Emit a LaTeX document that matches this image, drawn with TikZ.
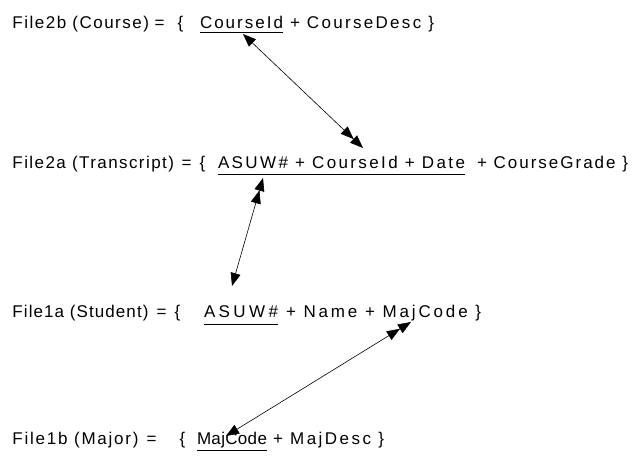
\documentclass[tikz,border=0pt]{standalone}
\usepackage{fontspec}
\setmainfont{Liberation Sans}
\usetikzlibrary{arrows.meta}
% Set a text with the letter spacing that makes it exactly #1 wide:
% the width grows linearly with LetterSpace, so two trial widths fix it.
\newlength\fitwa
\newlength\fitwb
\newcommand\fitw[2]{%
  \settowidth\fitwa{#2}%
  \settowidth\fitwb{\addfontfeatures{LetterSpace=10}#2}%
  \pgfmathsetmacro\fitls{10*(#1-\fitwa)/(\fitwb-\fitwa)}%
  \addfontfeatures{LetterSpace=\fitls}#2}
\begin{document}
\begin{tikzpicture}[x=1pt,y=1pt,
  txt/.style={inner sep=0pt, outer sep=0pt, anchor=base west,
    font=\fontsize{17}{20}\selectfont},
  uline/.style={line width=0.8pt},
  link/.style={line width=0.6pt},
  one-two/.style={link, {Triangle[length=13pt,width=10pt]}-{Triangle[length=13pt,width=10pt] Triangle[length=13pt,width=10pt]}},
  two-one/.style={link, {Triangle[length=13pt,width=10pt] Triangle[length=13pt,width=10pt]}-{Triangle[length=13pt,width=10pt]}}
]
\useasboundingbox (0,0) rectangle (639,465);

% File2b
\node[txt] (l1a) at (12.5,436.5) {\fitw{136.5pt}{File2b (Course)}};
\node[txt] (l1e) at (154.5,436.5) {=\hspace{13.1pt}\{};
\node[txt] (l1k) at (200,436.5) {\fitw{83pt}{CourseId}};
\node[txt] (l1b) at (290,436.5) {\fitw{144pt}{+ CourseDesc \}}};
\draw[uline] ([yshift=-3.5pt]l1k.base west) -- ([yshift=-3.5pt]l1k.base east);

% File2a
\node[txt] (l2a) at (12.5,296) {\fitw{161.5pt}{File2a (Transcript)}};
\node[txt] (l2e) at (181.5,296) {=\hspace{8.1pt}\{};
\node[txt] (l2k) at (218,296) {\fitw{247pt}{ASUW\# + CourseId + Date}};
\node[txt] (l2b) at (477,296) {\fitw{151pt}{+ CourseGrade \}}};
\draw[uline] ([yshift=-5pt]l2k.base west) -- ([yshift=-5pt]l2k.base east);

% File1a
\node[txt] (l3a) at (12.5,147) {\fitw{136pt}{File1a (Student)}};
\node[txt] (l3e) at (156.5,147) {=\hspace{8.1pt}\{};
\node[txt] (l3k) at (204,147) {\fitw{74pt}{ASUW\#}};
\node[txt] (l3b) at (286,147) {\fitw{195pt}{+ Name + MajCode \}}};
\draw[uline] ([yshift=-6pt]l3k.base west) -- ([yshift=-6pt]l3k.base east);

% File1b
\node[txt] (l4a) at (12.5,20) {\fitw{126pt}{File1b (Major)}};
\node[txt] (l4e) at (146.5,20) {=\hspace{23.1pt}\{};
\node[txt] (l4k) at (197,20) {\fitw{70pt}{MajCode}};
\node[txt] (l4b) at (273,20) {\fitw{111pt}{+ MajDesc \}}};
\draw[uline] ([yshift=-5pt]l4k.base west) -- ([yshift=-5pt]l4k.base east);

% link end points
\coordinate (c1s) at ([xshift=43pt,yshift=-5.5pt]l1k.base west);
\coordinate (c1e) at ([xshift=145pt,yshift=21pt]l2k.base west);
\coordinate (c2s) at ([xshift=45pt,yshift=-9pt]l2k.base west);
\coordinate (c2e) at ([xshift=28pt,yshift=32pt]l3k.base west);
\coordinate (c3s) at ([xshift=125pt,yshift=-4pt]l3b.base west);
\coordinate (c3e) at ([xshift=29pt,yshift=9pt]l4k.base west);

\draw[one-two] (c1s) -- (c1e);
\draw[two-one] (c2s) -- (c2e);
\draw[two-one] (c3s) -- (c3e);
\end{tikzpicture}
\end{document}
